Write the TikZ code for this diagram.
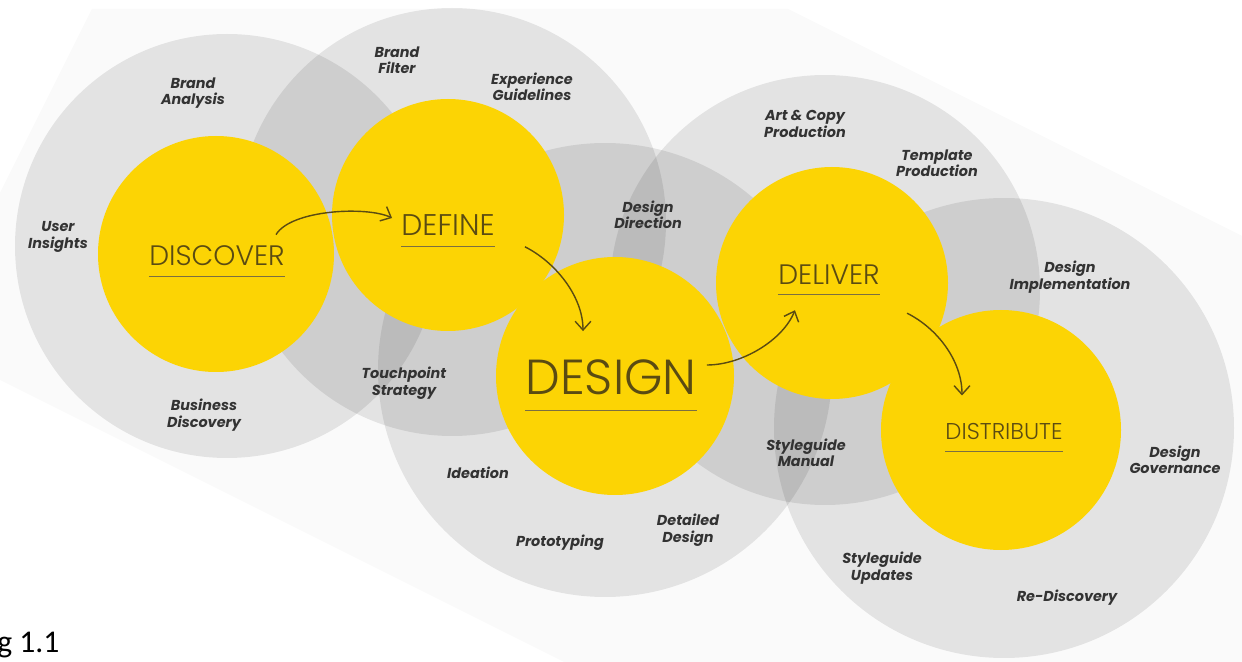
\documentclass[tikz,border=0pt]{standalone}
\usepackage{fontspec}
\setmainfont{Poppins}
\newfontfamily\hubfont{Poppins Light}
\newfontfamily\capfont{Carlito}
\usetikzlibrary{arrows.meta,calc}

\definecolor{hubyellow}{HTML}{FCD404}
\definecolor{inkolive}{HTML}{5A4B12}
\definecolor{taggray}{HTML}{333333}
\definecolor{paper}{HTML}{FAFAFA}

\begin{document}
\begin{tikzpicture}[x=0.02cm,y=-0.02cm,
    ring/.style={fill=black,fill opacity=0.09},
    hub/.style={fill=hubyellow},
    stage/.style={inner sep=0pt,text=inkolive,font=\hubfont\fontsize{16}{18}\selectfont},
    tag/.style={inner sep=0pt,align=center,text=taggray,font=\bfseries\itshape\fontsize{8.2}{9.4}\selectfont},
    rule/.style={draw=inkolive!80,line width=0.5pt},
    flow/.style={draw=inkolive,line width=0.8pt,-{Straight Barb[length=5pt,width=9pt]}}]
    \useasboundingbox (0,0) rectangle (1242,662);

    % faint tilted backdrop
    \fill[paper] (92,9) -- (788,9) -- (1242,236) -- (1242,662) -- (564,662) -- (0,380) -- (0,193) -- cycle;

    % outer rings
    \fill[ring] (227,246) circle (212);
    \fill[ring] (452,222) circle (214);
    \fill[ring] (605,370) circle (227);
    \fill[ring] (825,290) circle (215);
    \fill[ring] (1004,428) circle (230);

    % yellow hubs
    \fill[hub] (216,254) circle (118);
    \fill[hub] (448,215) circle (116);
    \fill[hub] (615,376) circle (119);
    \fill[hub] (832,283) circle (116);
    \fill[hub] (1001,430) circle (120);

    \node[stage] (disc) at (217,256) {DISCOVER};
    \node[stage,font=\hubfont\fontsize{17}{19}\selectfont] (defi) at (448,225) {DEFINE};
    \node[stage,font=\hubfont\fontsize{28}{30}\selectfont] (desi) at (611,377) {DESIGN};
    \node[stage] (deli) at (829,275) {DELIVER};
    \node[stage,font=\hubfont\fontsize{13}{15}\selectfont] (dist) at (1004,432) {DISTRIBUTE};

    \foreach \s/\g in {disc/6pt,defi/6pt,desi/9pt,deli/5pt,dist/6pt}
        \draw[rule] ([yshift=-\g]\s.south west) -- ([yshift=-\g]\s.south east);

    \draw[flow] ($(disc.north east)+(-9,-11)$) .. controls +(15,-25) and +(-25,-12) .. ($(defi.west)+(-9,-7)$);
    \draw[flow] ($(defi.south east)+(30,11)$) .. controls +(30,15) and +(0,-35) .. ($(desi.north)+(-28,-28)$);
    \draw[flow] ($(desi.east)+(10,-12)$) .. controls +(35,0) and +(-12,30) .. ($(deli.south west)+(17,25)$);
    \draw[flow] ($(deli.south east)+(27,28)$) .. controls +(30,15) and +(0,-35) .. ($(dist.north)+(-42,-28)$);

    \node[tag] (brandan) at (193,93) {Brand\\Analysis};
    \node[tag] (userins) at (58,237) {User\\Insights};
    \node[tag] (busdisc) at (204,415) {Business\\Discovery};
    \node[tag] (brandfi) at (397,60) {Brand\\Filter};
    \node[tag] (expguide) at (532,87) {Experience\\Guidelines};
    \node[tag] (touchst) at (404,383) {Touchpoint\\Strategy};
    \node[tag] (desdir) at (648,215) {Design\\Direction};
    \node[tag] (ideat) at (478,473) {Ideation};
    \node[tag] (proto) at (560,543) {Prototyping};
    \node[tag] (detdes) at (688,530) {Detailed\\Design};
    \node[tag] (artcopy) at (805,124) {Art \& Copy\\Production};
    \node[tag] (templ) at (937,163) {Template\\Production};
    \node[tag] (desimpl) at (1070,277) {Design\\Implementation};
    \node[tag] (stymanu) at (806,453) {Styleguide\\Manual};
    \node[tag] (desgov) at (1175,460) {Design\\Governance};
    \node[tag] (styupd) at (882,568) {Styleguide\\Updates};
    \node[tag] (redisc) at (1067,598) {Re-Discovery};

    \node[anchor=base west,inner sep=0pt,font=\capfont\fontsize{18}{22}\selectfont] (figno) at (-3,652) {g 1.1};
\end{tikzpicture}
\end{document}
